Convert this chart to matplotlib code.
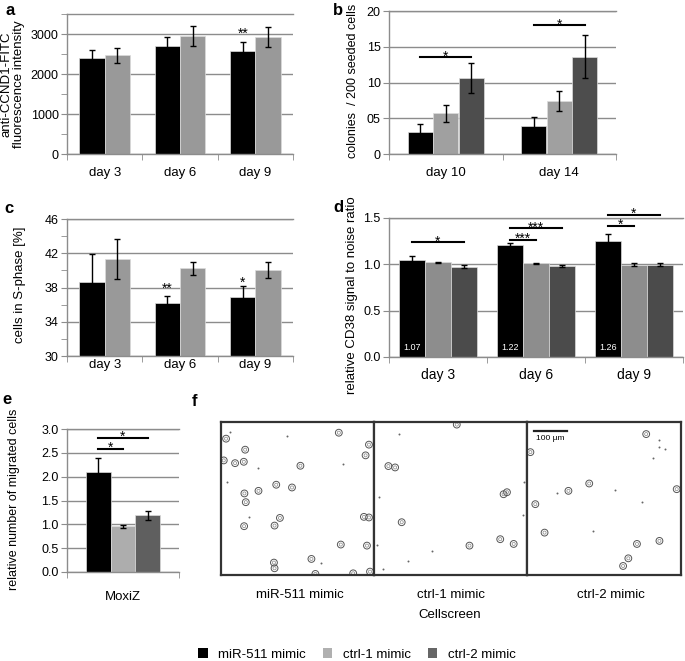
import matplotlib
matplotlib.use("Agg")
import matplotlib.pyplot as plt
from matplotlib.patches import Patch
import numpy as np

plt.rcParams['font.family'] = ['Liberation Sans', 'DejaVu Sans']

W, H = 685, 661
GRID = '#8c8c8c'

# ---- data ----
days = ['day 3', 'day 6', 'day 9']
days_b = ['day 10', 'day 14']

a_mir = [2400, 2700, 2575]
a_mir_err = [192, 216, 217]
a_ctrl1 = [2465, 2940, 2925]
a_ctrl1_err = [192, 251, 251]

b_mir = [3.1, 3.95]
b_mir_err = [1.1, 1.2]
b_ctrl1 = [5.7, 7.4]
b_ctrl1_err = [1.16, 1.35]
b_ctrl2 = [10.65, 13.6]
b_ctrl2_err = [2.05, 3.0]
b_ticklabels = ['0', '05', '10', '15', '20']

c_mir = [38.65, 36.15, 36.9]
c_mir_err = [3.25, 0.9, 1.3]
c_ctrl1 = [41.35, 40.25, 40.0]
c_ctrl1_err = [2.37, 0.78, 0.93]

d_mir = [1.048, 1.207, 1.254]
d_mir_err = [0.047, 0.02, 0.07]
d_ctrl1 = [1.02, 1.012, 0.998]
d_ctrl1_err = [0.008, 0.005, 0.017]
d_ctrl2 = [0.976, 0.983, 0.998]
d_ctrl2_err = [0.012, 0.008, 0.017]
d_labels = ['1.07', '1.22', '1.26']

e_vals = [2.1, 0.96, 1.19]
e_errs = [0.3, 0.03, 0.1]

legend_labels = ['miR-511 mimic', 'ctrl-1 mimic', 'ctrl-2 mimic']

# significance: (group, bar i, bar j, y, label)
b_sig = [(0, 0, 2, 13.5, '*'), (1, 0, 2, 18.0, '*')]
d_sig = [(0, 0, 2, 1.236, '*'), (1, 0, 1, 1.265, '***'), (1, 0, 2, 1.39, '***'),
         (2, 0, 1, 1.417, '*'), (2, 0, 2, 1.536, '*')]
e_sig = [(0, 0, 1, 2.59, '*'), (0, 0, 2, 2.82, '*')]

# cell outlines / debris in the Cellscreen images (fractions of the frame)
f_cells = [
    [(0.033, 0.109), (0.158, 0.181), (0.018, 0.251), (0.092, 0.269), (0.149, 0.260),
     (0.519, 0.286), (0.770, 0.070), (0.967, 0.148), (0.945, 0.218), (0.245, 0.450),
     (0.361, 0.410), (0.464, 0.428), (0.153, 0.467), (0.162, 0.524), (0.385, 0.627),
     (0.151, 0.681), (0.350, 0.677), (0.934, 0.620), (0.967, 0.624), (0.783, 0.801),
     (0.954, 0.808), (0.591, 0.895), (0.346, 0.919), (0.350, 0.956), (0.617, 0.993),
     (0.864, 0.989), (0.974, 0.978)],
    [(0.541, 0.017), (0.094, 0.288), (0.138, 0.297), (0.847, 0.472), (0.869, 0.459),
     (0.181, 0.655), (0.624, 0.808), (0.825, 0.766), (0.913, 0.797)],
    [(0.774, 0.079), (0.022, 0.197), (0.404, 0.402), (0.269, 0.450), (0.972, 0.439),
     (0.054, 0.537), (0.114, 0.723), (0.714, 0.797), (0.860, 0.777), (0.658, 0.891),
     (0.624, 0.941)],
]
f_dots = [
    [(0.431, 0.092), (0.057, 0.066), (0.241, 0.301), (0.797, 0.275), (0.039, 0.389),
     (0.186, 0.618), (0.656, 0.924)],
    [(0.166, 0.076), (0.035, 0.491), (0.022, 0.803), (0.378, 0.843), (0.221, 0.908),
     (0.057, 0.961), (0.978, 0.389), (0.974, 0.607)],
    [(0.856, 0.118), (0.860, 0.162), (0.899, 0.175), (0.817, 0.236), (0.194, 0.463),
     (0.572, 0.445), (0.744, 0.520), (0.430, 0.712)],
]
f_names = ['miR-511 mimic', 'ctrl-1 mimic', 'ctrl-2 mimic']


def fx(px):
    return px / W


def fy(py):
    return 1 - py / H


def make_axes(fig, left, top, right, bottom):
    return fig.add_axes([fx(left), fy(bottom), (right - left) / W, (bottom - top) / H])


def style(ax, ncat, ylim, yticks, xlabels, xpad, minor=None):
    ax.set_xlim(-0.5, ncat - 0.5)
    ax.set_ylim(*ylim)
    ax.set_yticks(yticks)
    if minor is not None:
        ax.set_yticks(minor, minor=True)
    ax.set_xticks(range(ncat))
    ax.set_xticklabels(xlabels, fontsize=9.5)
    ax.set_xticks(np.arange(ncat + 1) - 0.5, minor=True)
    ax.spines['right'].set_visible(False)
    for s in ['top', 'left', 'bottom']:
        ax.spines[s].set_color(GRID)
        ax.spines[s].set_linewidth(1)
    ax.yaxis.grid(True, color=GRID, lw=1)
    ax.set_axisbelow(True)
    ax.tick_params(axis='y', which='both', direction='out', length=4, color=GRID,
                   labelsize=9, pad=2)
    ax.tick_params(axis='x', which='major', length=0, pad=xpad)
    ax.tick_params(axis='x', which='minor', length=4, color=GRID)


def bars(ax, offsets, width, series, errs, colors):
    for off, vals, err, col in zip(offsets, series, errs, colors):
        x = np.arange(len(vals)) + off
        ax.bar(x, vals, width, color=col, edgecolor='#dcdcdc', linewidth=0.5, zorder=2)
        ax.errorbar(x, vals, yerr=err, fmt='none', ecolor='black', elinewidth=1,
                    capsize=2, capthick=1, zorder=3)


def star(ax, x, y, label):
    ax.annotate(label, (x, y), xytext=(0, -2.5), textcoords='offset points',
                ha='center', va='baseline', fontsize=10, annotation_clip=False)


def sigs(ax, offsets, items):
    for g, i, j, y, lab in items:
        x1, x2 = g + offsets[i], g + offsets[j]
        ax.plot([x1, x2], [y, y], color='black', lw=1.5, clip_on=False, zorder=4)
        star(ax, (x1 + x2) / 2, y, lab)


fig = plt.figure(figsize=(W / 100, H / 100), dpi=100)

# ---- a ----
ax = make_axes(fig, 67, 14, 293, 154)
off2 = [-0.1675, 0.1675]
bars(ax, off2, 0.335, [a_mir, a_ctrl1], [a_mir_err, a_ctrl1_err], ['black', '#999999'])
style(ax, 3, (0, 3500), [0, 1000, 2000, 3000], days, 9, minor=np.arange(0, 3501, 500))
star(ax, 2 + off2[0], 3000, '**')
fig.text(fx(13), fy(84), 'anti-CCND1-FITC\nfluorescence intensity', rotation=90,
         ha='center', va='center', fontsize=9.5, linespacing=1.05)

# ---- b ----
ax = make_axes(fig, 389, 11, 616, 154)
off3 = [-0.225, 0, 0.225]
bars(ax, off3, 0.22, [b_mir, b_ctrl1, b_ctrl2], [b_mir_err, b_ctrl1_err, b_ctrl2_err],
     ['black', '#a0a0a0', '#4d4d4d'])
style(ax, 2, (0, 20), [0, 5, 10, 15, 20], days_b, 9)
ax.set_yticklabels(b_ticklabels)
sigs(ax, off3, b_sig)
fig.text(fx(352.5), fy(81), 'colonies  / 200 seeded cells', rotation=90,
         ha='center', va='center', fontsize=9)

# ---- c ----
ax = make_axes(fig, 67, 219, 293, 356)
bars(ax, off2, 0.335, [c_mir, c_ctrl1], [c_mir_err, c_ctrl1_err], ['black', '#999999'])
style(ax, 3, (30, 46), [30, 34, 38, 42, 46], days, 2, minor=np.arange(30, 47, 2))
star(ax, 1 + off2[0], 37.8, '**')
star(ax, 2 + off2[0], 38.5, '*')
fig.text(fx(20), fy(285), 'cells in S-phase [%]', rotation=90,
         ha='center', va='center', fontsize=9.5)

# ---- d ----
ax = make_axes(fig, 389, 218, 683, 357)
offd = [-0.265, 0, 0.265]
bars(ax, offd, 0.265, [d_mir, d_ctrl1, d_ctrl2], [d_mir_err, d_ctrl1_err, d_ctrl2_err],
     ['black', '#8d8d8d', '#4b4b4b'])
style(ax, 3, (0, 1.5), [0, 0.5, 1.0, 1.5], days, 8)
ax.set_yticklabels(['0.0', '0.5', '1.0', '1.5'])
ax.tick_params(axis='x', which='major', labelsize=10)
sigs(ax, offd, d_sig)
for i, lab in enumerate(d_labels):
    ax.text(i + offd[0], 0.1, lab, color='white', ha='center', va='center',
            fontsize=6.5, zorder=5)
fig.text(fx(352.5), fy(295), 'relative CD38 signal to noise ratio', rotation=90,
         ha='center', va='center', fontsize=9.5)

# ---- e ----
ax = make_axes(fig, 67, 429, 179, 572)
offe = [-0.22, 0, 0.22]
for k in range(3):
    ax.bar(offe[k], e_vals[k], 0.22, color=['black', '#adadad', '#5f5f5f'][k],
           edgecolor='#dcdcdc', linewidth=0.5, zorder=2)
ax.errorbar(offe, e_vals, yerr=e_errs, fmt='none', ecolor='black', elinewidth=1,
            capsize=2, capthick=1, zorder=3)
style(ax, 1, (0, 3.0), np.arange(0, 3.01, 0.5), ['MoxiZ'], 14)
ax.set_yticklabels(['0.0', '0.5', '1.0', '1.5', '2.0', '2.5', '3.0'])
sigs(ax, offe, e_sig)
fig.text(fx(14), fy(499), 'relative number of migrated cells', rotation=90,
         ha='center', va='center', fontsize=9)

# ---- f ----
edges = [221, 374, 527, 681]
name_x = [300, 451, 611]
for k in range(3):
    ax = make_axes(fig, edges[k], 422, edges[k + 1], 575)
    ax.set_xlim(0, 1)
    ax.set_ylim(1, 0)
    ax.set_xticks([])
    ax.set_yticks([])
    for s in ax.spines.values():
        s.set_color('#333333')
        s.set_linewidth(1.6)
    cx = [p[0] for p in f_cells[k]]
    cy = [p[1] for p in f_cells[k]]
    ax.scatter(cx, cy, s=24, facecolors='none', edgecolors='#555555', linewidths=0.7)
    ax.scatter(cx, cy, s=5, facecolors='none', edgecolors='#888888', linewidths=0.5)
    dx = [p[0] for p in f_dots[k]]
    dy = [p[1] for p in f_dots[k]]
    ax.scatter(dx, dy, s=2, color='#666666', linewidths=0)
    fig.text(fx(name_x[k]), fy(595), f_names[k], ha='center', va='center', fontsize=9.5)
    if k == 2:
        ax.plot([0.043, 0.258], [0.057, 0.057], color='#222222', lw=1.6)
        ax.text(0.06, 0.105, '100 µm', fontsize=6, ha='left', va='center')
fig.text(fx(450), fy(615.5), 'Cellscreen', ha='center', va='center', fontsize=9.5)

# ---- panel letters ----
for lab, x, y in [('a', 5, 15), ('b', 333, 15), ('c', 4, 213), ('d', 333, 212),
                  ('e', 2, 404), ('f', 192, 406)]:
    fig.text(fx(x), fy(y), lab, fontsize=12, fontweight='bold', ha='left', va='baseline')

# ---- legend ----
handles = [Patch(facecolor=c) for c in ['black', '#b0b0b0', '#666666']]
fig.legend(handles, legend_labels, loc='center', bbox_to_anchor=(fx(357), fy(654.5)),
           ncol=3, frameon=False, handlelength=0.7, handleheight=0.7,
           handletextpad=0.8, columnspacing=1.3, fontsize=9.5, borderpad=0)

fig.savefig('out.png', dpi=100)
